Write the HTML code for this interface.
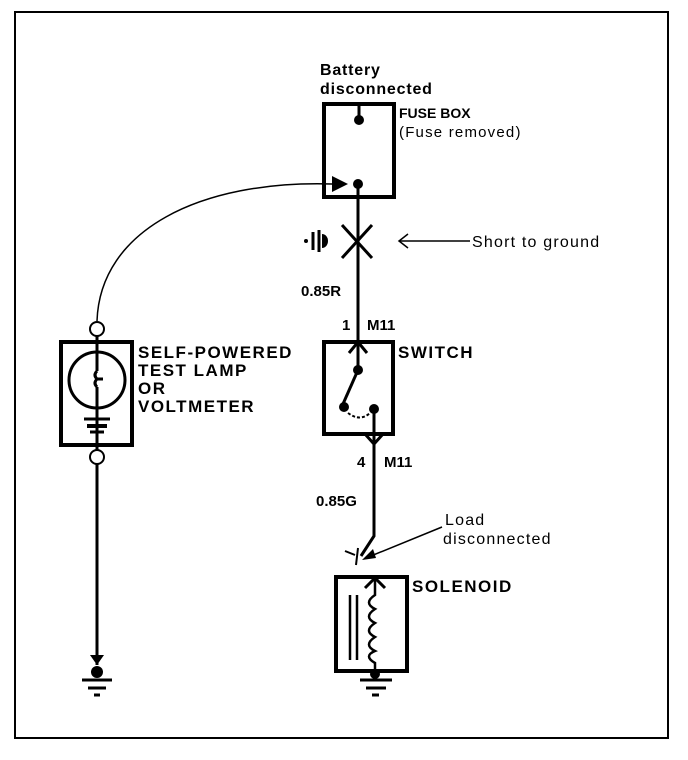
<!DOCTYPE html>
<html><head><style>
body{margin:0;background:#fff;}
svg{display:block;}
text{font-family:"Liberation Sans",sans-serif;fill:#000;}
.b{font-weight:bold;font-size:15px;}
.L{font-weight:bold;font-size:17px;letter-spacing:1.5px;}
.f{font-weight:bold;font-size:14px;}
.n{font-size:16px;letter-spacing:1.2px;}
</style></head><body>
<svg width="688" height="760" viewBox="0 0 688 760">
<rect x="15" y="12" width="653" height="726" fill="none" stroke="#000" stroke-width="2"/>
<!-- Fuse box -->
<text class="b" x="320" y="75" style="font-size:16px;letter-spacing:0.8px">Battery</text>
<text class="b" x="320" y="94" style="font-size:16px;letter-spacing:0.8px">disconnected</text>
<rect x="324" y="104" width="70" height="93" fill="none" stroke="#000" stroke-width="4"/>
<text class="f" x="399" y="118">FUSE BOX</text>
<text class="n" x="399" y="137" style="font-size:15px">(Fuse removed)</text>
<line x1="359" y1="104" x2="359" y2="118" stroke="#000" stroke-width="3"/>
<circle cx="359" cy="120" r="5"/>
<circle cx="358" cy="184" r="5"/>
<polygon points="332,176 348,184 332,192"/>
<line x1="358" y1="184" x2="358" y2="342" stroke="#000" stroke-width="3"/>
<path d="M332,184 C200,180 100,230 97,321" fill="none" stroke="#000" stroke-width="1.5"/>
<!-- short -->
<line x1="342" y1="225" x2="372" y2="258" stroke="#000" stroke-width="3"/>
<line x1="372" y1="225" x2="342" y2="258" stroke="#000" stroke-width="3"/>
<circle cx="306" cy="241" r="2"/>
<line x1="313" y1="232" x2="313" y2="250" stroke="#000" stroke-width="3"/>
<line x1="319" y1="230" x2="319" y2="252" stroke="#000" stroke-width="3"/>
<path d="M322,234 a6,7 0 0 1 0,14z"/>
<line x1="400" y1="241" x2="470" y2="241" stroke="#000" stroke-width="1.5"/>
<path d="M408,234 L399,241 L408,248" fill="none" stroke="#000" stroke-width="1.5"/>
<text class="n" x="472" y="247">Short to ground</text>
<text class="b" x="301" y="296">0.85R</text>
<text class="b" x="342" y="330">1</text>
<text class="b" x="367" y="330">M11</text>
<!-- switch -->
<rect x="324" y="342" width="69" height="92" fill="none" stroke="#000" stroke-width="4"/>
<text class="L" x="398" y="358">SWITCH</text>
<path d="M349,353 L358,342 L367,353" fill="none" stroke="#000" stroke-width="3"/>
<line x1="358" y1="342" x2="358" y2="368" stroke="#000" stroke-width="3"/>
<circle cx="358" cy="370" r="5"/>
<line x1="358" y1="370" x2="343" y2="404" stroke="#000" stroke-width="3"/>
<circle cx="344" cy="407" r="5"/>
<circle cx="374" cy="409" r="5"/>
<path d="M348,413 Q360,422 370,413" fill="none" stroke="#000" stroke-width="2" stroke-dasharray="3,2"/>
<line x1="374" y1="409" x2="374" y2="447" stroke="#000" stroke-width="3"/>
<path d="M365,434 L374,444 L383,434" fill="none" stroke="#000" stroke-width="3"/>
<text class="b" x="357" y="467">4</text>
<text class="b" x="384" y="467">M11</text>
<text class="b" x="316" y="506">0.85G</text>
<path d="M374,447 L374,536 L361,556" fill="none" stroke="#000" stroke-width="3"/>
<path d="M345,551 L355,555 M358,548 L356,565" fill="none" stroke="#000" stroke-width="2"/>
<text class="n" x="445" y="525">Load</text>
<text class="n" x="443" y="544">disconnected</text>
<line x1="442" y1="527" x2="366" y2="558" stroke="#000" stroke-width="1.5"/>
<polygon points="362,560 373,549 376,558"/>
<!-- solenoid -->
<rect x="336" y="577" width="71" height="94" fill="none" stroke="#000" stroke-width="4"/>
<text class="L" x="412" y="592">SOLENOID</text>
<path d="M365,588 L375,578 L385,588" fill="none" stroke="#000" stroke-width="3"/>
<path d="M375,578 L375,595 q-12,8 0,14 q-12,8 0,14 q-12,8 0,14 q-12,8 0,14 q-12,5 0,12 L375,672" fill="none" stroke="#000" stroke-width="2.5"/>
<line x1="350" y1="595" x2="350" y2="660" stroke="#000" stroke-width="2.5"/>
<line x1="357" y1="595" x2="357" y2="660" stroke="#000" stroke-width="2.5"/>
<circle cx="375" cy="674" r="5"/>
<line x1="360" y1="680" x2="392" y2="680" stroke="#000" stroke-width="3"/>
<line x1="366" y1="688" x2="386" y2="688" stroke="#000" stroke-width="3"/>
<line x1="372" y1="695" x2="379" y2="695" stroke="#000" stroke-width="3"/>
<!-- test lamp -->
<circle cx="97" cy="329" r="7" fill="#fff" stroke="#000" stroke-width="2"/>
<rect x="61" y="342" width="71" height="103" fill="none" stroke="#000" stroke-width="4"/>
<circle cx="97" cy="380" r="28" fill="none" stroke="#000" stroke-width="3"/>
<line x1="97" y1="336" x2="97" y2="371" stroke="#000" stroke-width="3"/>
<path d="M97,371 q-4,4 0,8 l6,0 m-6,0 q-4,4 0,8" fill="none" stroke="#000" stroke-width="3"/>
<line x1="97" y1="387" x2="97" y2="450" stroke="#000" stroke-width="3"/>
<line x1="84" y1="419" x2="110" y2="419" stroke="#000" stroke-width="3"/>
<line x1="87" y1="426" x2="107" y2="426" stroke="#000" stroke-width="4"/>
<line x1="90" y1="432" x2="104" y2="432" stroke="#000" stroke-width="3"/>
<text class="L" x="138" y="358">SELF-POWERED</text>
<text class="L" x="138" y="376">TEST LAMP</text>
<text class="L" x="138" y="394">OR</text>
<text class="L" x="138" y="412">VOLTMETER</text>
<circle cx="97" cy="457" r="7" fill="#fff" stroke="#000" stroke-width="2"/>
<line x1="97" y1="464" x2="97" y2="665" stroke="#000" stroke-width="3"/>
<polygon points="90,655 104,655 97,665"/>
<circle cx="97" cy="672" r="6"/>
<line x1="82" y1="680" x2="112" y2="680" stroke="#000" stroke-width="3"/>
<line x1="88" y1="688" x2="106" y2="688" stroke="#000" stroke-width="3"/>
<line x1="94" y1="695" x2="100" y2="695" stroke="#000" stroke-width="3"/>
</svg>
</body></html>
